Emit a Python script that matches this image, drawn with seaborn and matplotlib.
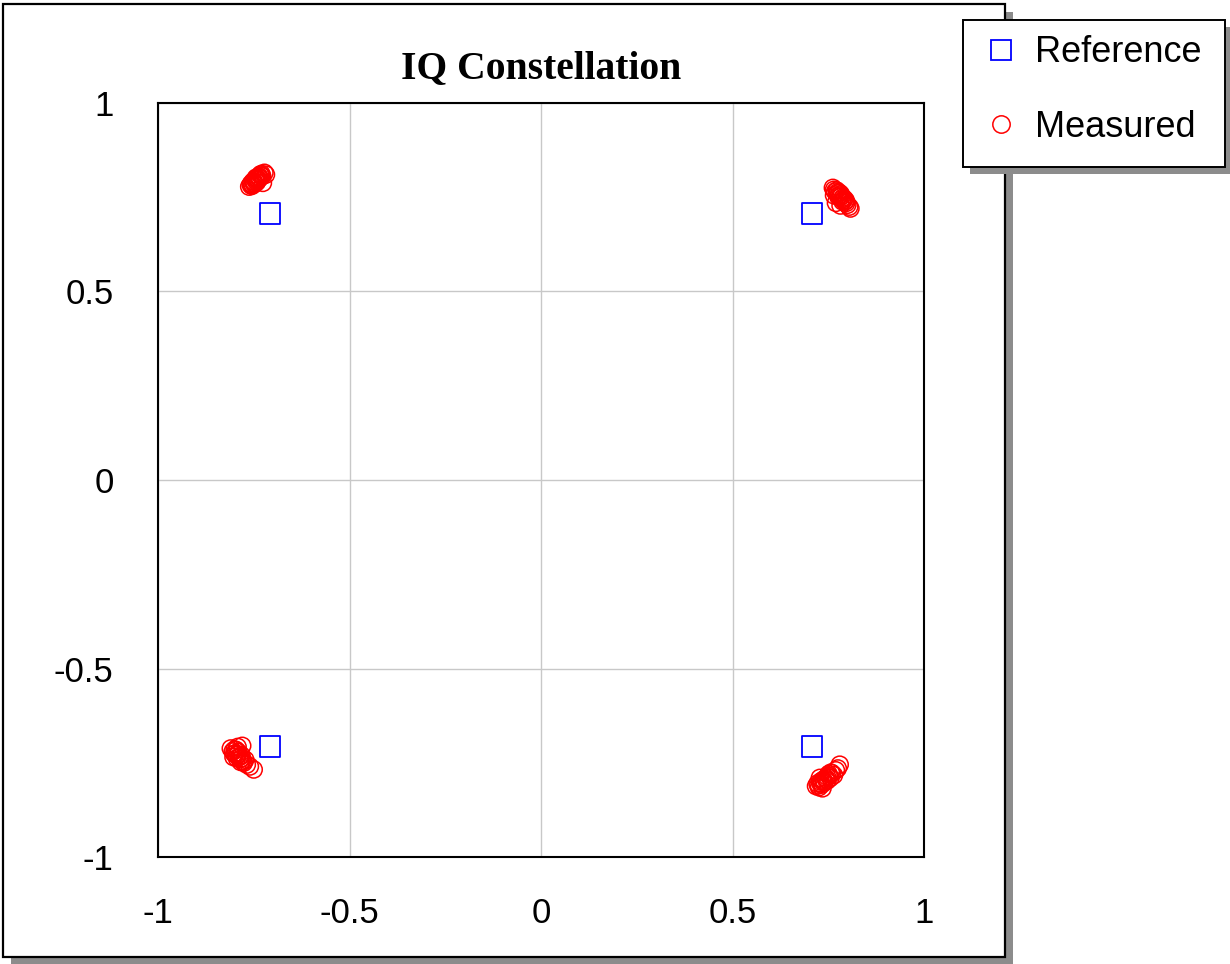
import matplotlib
matplotlib.use("Agg")
import matplotlib.pyplot as plt
from matplotlib.patches import Rectangle
from matplotlib.lines import Line2D
import seaborn as sns
import pandas as pd

# Ideal QPSK symbol locations
ref_i = [-0.7071, 0.7071, -0.7071, 0.7071]
ref_q = [0.7071, 0.7071, -0.7071, -0.7071]

# Measured symbols, one cluster per quadrant
meas_i = [
    # upper left
    -0.762, -0.758, -0.755, -0.750, -0.752, -0.746, -0.742, -0.740, -0.736,
    -0.733, -0.730, -0.728, -0.722, -0.738, -0.748, -0.744, -0.718, -0.726,
    -0.757, -0.753, -0.749, -0.745, -0.741, -0.737, -0.734, -0.731,
    # upper right
    0.762, 0.765, 0.768, 0.772, 0.775, 0.778, 0.780, 0.784, 0.786,
    0.790, 0.793, 0.797, 0.800, 0.805, 0.808, 0.770, 0.782, 0.765,
    0.774, 0.779, 0.783, 0.788, 0.792, 0.796, 0.776, 0.787,
    # lower left
    -0.810, -0.805, -0.800, -0.798, -0.795, -0.790, -0.788, -0.785, -0.782,
    -0.780, -0.776, -0.772, -0.768, -0.760, -0.750, -0.780, -0.792, -0.803,
    -0.801, -0.796, -0.791, -0.786, -0.781, -0.777, -0.794, -0.784,
    # lower right
    0.718, 0.722, 0.726, 0.730, 0.733, 0.737, 0.740, 0.744, 0.748,
    0.752, 0.756, 0.760, 0.765, 0.770, 0.775, 0.780, 0.735, 0.728,
    0.724, 0.729, 0.734, 0.739, 0.743, 0.747, 0.751, 0.757,
]
meas_q = [
    0.778, 0.783, 0.780, 0.788, 0.792, 0.795, 0.790, 0.800, 0.805,
    0.810, 0.812, 0.806, 0.815, 0.797, 0.785, 0.802, 0.810, 0.788,
    0.786, 0.784, 0.791, 0.798, 0.796, 0.802, 0.801, 0.807,
    0.775, 0.770, 0.765, 0.768, 0.760, 0.755, 0.750, 0.752, 0.745,
    0.742, 0.738, 0.735, 0.730, 0.725, 0.720, 0.735, 0.728, 0.755,
    0.763, 0.762, 0.758, 0.749, 0.746, 0.741, 0.752, 0.739,
    -0.712, -0.720, -0.715, -0.725, -0.730, -0.722, -0.735, -0.740, -0.730,
    -0.745, -0.750, -0.742, -0.755, -0.760, -0.768, -0.705, -0.708, -0.735,
    -0.726, -0.716, -0.728, -0.733, -0.738, -0.747, -0.738, -0.748,
    -0.812, -0.805, -0.815, -0.800, -0.808, -0.795, -0.802, -0.790, -0.797,
    -0.785, -0.790, -0.778, -0.783, -0.770, -0.765, -0.755, -0.818, -0.790,
    -0.810, -0.804, -0.798, -0.799, -0.793, -0.787, -0.780, -0.776,
]

tick_vals = [-1, -0.5, 0, 0.5, 1]
tick_labels = ["-1", "-0.5", "0", "0.5", "1"]

ref_df = pd.DataFrame({"I": ref_i, "Q": ref_q})
meas_df = pd.DataFrame({"I": meas_i, "Q": meas_q})

sns.set_style("white")
plt.rcParams["font.family"] = ["Liberation Sans", "DejaVu Sans"]
plt.rcParams["text.color"] = "black"

W, H = 1230, 964
fig = plt.figure(figsize=(W / 100, H / 100), dpi=100)
fig.patch.set_facecolor("white")


def px_rect(x0, y0, x1, y1, **kw):
    """Rectangle given in pixel coordinates measured from the top-left."""
    return Rectangle((x0 / W, 1 - y1 / H), (x1 - x0) / W, (y1 - y0) / H,
                     transform=fig.transFigure, **kw)


# Outer frame with drop shadow
fig.patches.append(px_rect(11, 12, 1013, 964, facecolor="#8c8c8c",
                           edgecolor="none", zorder=0))
fig.patches.append(px_rect(3, 4, 1005, 957, facecolor="white",
                           edgecolor="black", linewidth=1.6, zorder=1))

ax = fig.add_axes([158 / W, 1 - 857 / H, (924 - 158) / W, (857 - 103) / H])
ax.set_zorder(2)

sns.scatterplot(data=meas_df, x="I", y="Q", ax=ax, marker="o", s=150,
                facecolors="none", edgecolor="#ff0000", linewidth=1.1,
                zorder=3)
sns.scatterplot(data=ref_df, x="I", y="Q", ax=ax, marker="s", s=220,
                facecolors="none", edgecolor="#0000ff", linewidth=1.3,
                zorder=4)

ax.set_xlim(-1, 1)
ax.set_ylim(-1, 1)
ax.set_xticks(tick_vals)
ax.set_xticklabels(tick_labels)
ax.set_yticks(tick_vals)
ax.set_yticklabels(tick_labels)
ax.set_xlabel("")
ax.set_ylabel("")
ax.grid(True, color="#c8c8c8", linewidth=1.0)
ax.set_axisbelow(True)
for sp in ax.spines.values():
    sp.set_color("black")
    sp.set_linewidth(1.5)
ax.tick_params(axis="both", length=0, labelsize=25, colors="black")
ax.tick_params(axis="x", pad=29)
ax.tick_params(axis="y", pad=32)

ax.set_title("IQ Constellation", fontsize=28.5, fontweight="bold",
             family=["Liberation Serif", "DejaVu Serif"], pad=18,
             color="black")

# Legend box with drop shadow
fig.patches.append(px_rect(970, 27, 1231, 174, facecolor="#8c8c8c",
                           edgecolor="none", zorder=5))
fig.patches.append(px_rect(963, 20, 1225, 167, facecolor="white",
                           edgecolor="black", linewidth=1.4, zorder=6))

handles = [
    Line2D([], [], linestyle="none", marker="s", markersize=15,
           markerfacecolor="none", markeredgecolor="#0000ff",
           markeredgewidth=1.3, label="Reference"),
    Line2D([], [], linestyle="none", marker="o", markersize=12.5,
           markerfacecolor="none", markeredgecolor="#ff0000",
           markeredgewidth=1.1, label="Measured"),
]
leg = fig.legend(handles=handles, loc="center",
                 bbox_to_anchor=(1092 / W, 1 - 90 / H),
                 frameon=False, fontsize=26, handletextpad=0.45,
                 labelspacing=1.1, borderpad=0.2, handlelength=1.0)
for t in leg.get_texts():
    t.set_color("black")
leg.set_zorder(7)

fig.savefig("out.png", dpi=100, facecolor="white")
